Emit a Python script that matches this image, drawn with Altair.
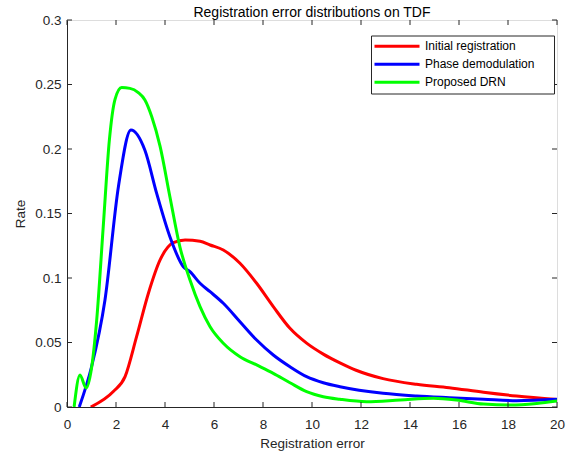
import altair as alt
import pandas as pd

series_names = ["Initial registration", "Phase demodulation", "Proposed DRN"]
series_colors = ["#ff0000", "#0000ff", "#00ff00"]

red_x = [0.97, 1.89, 2.37, 2.84, 3.32, 3.8, 4.34, 4.82, 5.43, 5.84, 6.38, 7.06, 7.74, 8.42,
         9.1, 9.78, 10.46, 11.14, 11.8, 12.9, 14.27, 15.6, 17.0, 18.35, 20.0]
red_y = [0.0, 0.012, 0.0235, 0.0545, 0.088, 0.114, 0.1274, 0.1295, 0.1285, 0.1256, 0.1217, 0.1114, 0.0959,
         0.0778, 0.061, 0.0495, 0.041, 0.0342, 0.0285, 0.022, 0.0176, 0.015, 0.0114, 0.0085, 0.0058]

blue_x = [0.5, 1.0, 1.55, 2.1, 2.61, 3.18, 3.66, 4.2, 4.75, 5.02, 5.43, 5.84, 6.38, 7.06, 7.74,
          8.42, 9.1, 9.78, 10.46, 11.14, 12.9, 14.27, 15.6, 17.0, 18.35, 20.0]
blue_y = [0.0, 0.031, 0.083, 0.171, 0.2147, 0.199, 0.1656, 0.132, 0.1087, 0.1049, 0.0959, 0.0894, 0.0804,
          0.0661, 0.0519, 0.0403, 0.0312, 0.0235, 0.0188, 0.0157, 0.0106, 0.0085, 0.0072, 0.006, 0.0049, 0.006]

green_x = [0.29, 0.53, 0.78, 1.0, 1.21, 1.48, 1.73, 1.96, 2.23, 2.57, 2.91, 3.18, 3.46, 3.8,
           4.2, 4.61, 5.02, 5.43, 5.84, 6.38, 7.06, 7.74, 8.42, 9.1, 9.78, 10.46, 11.14, 12.23,
           13.6, 14.95, 15.9, 17.0, 18.1, 19.17, 20.0]
green_y = [0.0, 0.0248, 0.0147, 0.030, 0.067, 0.14, 0.207, 0.2385, 0.2476, 0.247, 0.2437, 0.238, 0.225,
           0.202, 0.163, 0.124, 0.0984, 0.0778, 0.0622, 0.0494, 0.039, 0.0326, 0.0261, 0.0188, 0.0119,
           0.008, 0.006, 0.0041, 0.0054, 0.0067, 0.0054, 0.0023, 0.0016, 0.0028, 0.0046]

x_ticks = [0, 2, 4, 6, 8, 10, 12, 14, 16, 18, 20]
y_ticks = [0, 0.05, 0.1, 0.15, 0.2, 0.25, 0.3]

rows = []
for name, xs, ys in zip(series_names, [red_x, blue_x, green_x], [red_y, blue_y, green_y]):
    for i, (a, b) in enumerate(zip(xs, ys)):
        rows.append({"x": a, "y": b, "series": name, "order": i})
df = pd.DataFrame(rows)

W, H = 490, 387
AX = "#262626"
FONT = "Liberation Sans"
TL = 5
PAD = "\u00a0" * 5 + "\u200b"

xscale = alt.Scale(domain=[0, 20], nice=False, zero=False)
yscale = alt.Scale(domain=[0, 0.3], nice=False)

xaxis = alt.Axis(values=x_ticks, format="d", title="Registration error", ticks=False,
                 labelPadding=10, titlePadding=6, domainColor=AX, labelColor=AX,
                 titleColor=AX, labelFont=FONT, titleFont=FONT, labelFontSize=13.5,
                 titleFontSize=13.5, titleFontWeight="normal", grid=False,
                 labelFlush=False, labelOverlap=False)
yaxis = alt.Axis(values=y_ticks, format="~g", title="Rate", ticks=False,
                 labelPadding=6, titlePadding=7, domainColor=AX, labelColor=AX,
                 titleColor=AX, labelFont=FONT, titleFont=FONT, labelFontSize=13.5,
                 titleFontSize=13.5, titleFontWeight="normal", grid=False,
                 labelFlush=False, labelOverlap=False)

lines = alt.Chart(df).mark_line(strokeWidth=3, strokeJoin="round", clip=True,
                                interpolate="monotone").encode(
    x=alt.X("x:Q", scale=xscale, axis=xaxis),
    y=alt.Y("y:Q", scale=yscale, axis=yaxis),
    color=alt.Color("series:N",
                    scale=alt.Scale(domain=series_names, range=series_colors),
                    legend=alt.Legend(orient="none", legendX=304, legendY=15.5, title=None,
                                      symbolType="stroke", symbolStrokeWidth=3, symbolSize=2025,
                                      labelFontSize=12, labelFont=FONT, labelColor="#000000",
                                      labelOffset=4, padding=2, strokeColor=AX, fillColor="white",
                                      clipHeight=17.5, rowPadding=0, symbolOffset=0,
                                      labelLimit=400,
                                      labelExpr="datum.label + '" + PAD + "'")),
    order="order:Q",
)

xt_df = pd.DataFrame({"t": x_ticks})
yt_df = pd.DataFrame({"t": y_ticks})

xb = alt.Chart(xt_df).mark_rule(color=AX, strokeWidth=1).encode(
    x=alt.X("t:Q", scale=xscale, axis=xaxis), y=alt.value(H), y2=alt.value(H - TL))
xtop = alt.Chart(xt_df).mark_rule(color=AX, strokeWidth=1).encode(
    x=alt.X("t:Q", scale=xscale, axis=xaxis), y=alt.value(0), y2=alt.value(TL))
yl = alt.Chart(yt_df).mark_rule(color=AX, strokeWidth=1).encode(
    y=alt.Y("t:Q", scale=yscale, axis=yaxis), x=alt.value(0), x2=alt.value(TL))
yr = alt.Chart(yt_df).mark_rule(color=AX, strokeWidth=1).encode(
    y=alt.Y("t:Q", scale=yscale, axis=yaxis), x=alt.value(W), x2=alt.value(W - TL))

chart = alt.layer(lines, xb, xtop, yl, yr).properties(
    width=W, height=H,
    title=alt.TitleParams("Registration error distributions on TDF", fontSize=14,
                          fontWeight="normal", font=FONT, color="#000000", offset=0,
                          dy=7, anchor="middle"),
    autosize=alt.AutoSizeParams(type="none"),
    padding={"left": 67, "top": 20, "right": 11, "bottom": 46},
).configure_view(stroke=AX, strokeWidth=1).configure(background="white")

chart.save("out.html", embed_options={"renderer": "svg", "actions": False})
